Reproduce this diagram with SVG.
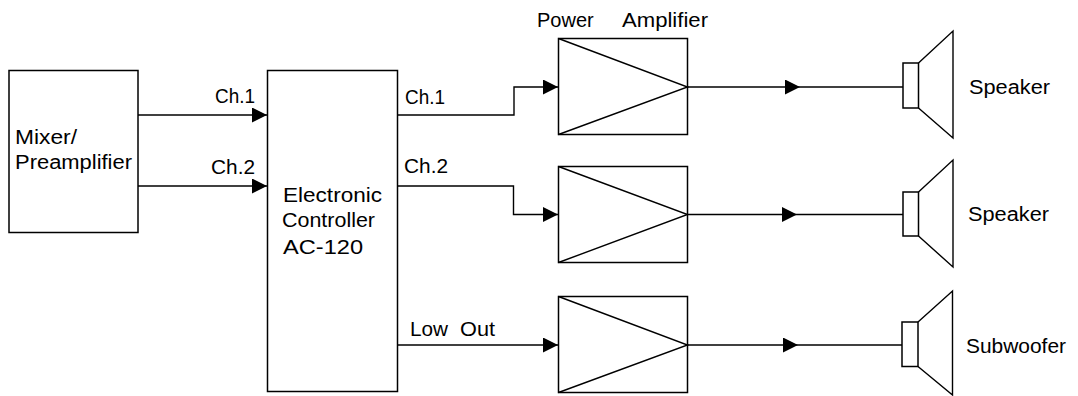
<svg xmlns="http://www.w3.org/2000/svg" width="1078" height="396" viewBox="0 0 1078 396">
<style>
.box{fill:none;stroke:#000;stroke-width:1.5}
.ln{fill:none;stroke:#000;stroke-width:1.4}
text{font-family:"Liberation Sans",Arial,sans-serif;font-size:20px;fill:#000}
</style>
<defs>
<marker id="ah" markerUnits="userSpaceOnUse" markerWidth="16" markerHeight="16" refX="15" refY="7.5" orient="auto">
<path d="M0,0 L15,7.5 L0,15 z" fill="#000"/>
</marker>
</defs>
<rect width="1078" height="396" fill="#fff"/>
<g id="mixer">
<rect class="box" x="9" y="70.5" width="129" height="162"/>
<text x="15" y="144" textLength="62" lengthAdjust="spacingAndGlyphs">Mixer/</text>
<text x="15" y="169" textLength="117" lengthAdjust="spacingAndGlyphs">Preamplifier</text>
</g>
<g id="controller">
<rect class="box" x="267.5" y="70.5" width="130" height="321"/>
<text x="283" y="202" textLength="99" lengthAdjust="spacingAndGlyphs">Electronic</text>
<text x="282" y="227" textLength="93" lengthAdjust="spacingAndGlyphs">Controller</text>
<text x="283" y="254" textLength="80" lengthAdjust="spacingAndGlyphs">AC-120</text>
</g>
<g id="amp1">
<rect class="box" x="558.5" y="38.5" width="129" height="96"/>
<path class="ln" d="M558.5,38.5 L687.5,87 L558.5,134.5"/>
<text x="537" y="27">Power</text>
<text x="622" y="27" textLength="86" lengthAdjust="spacingAndGlyphs">Amplifier</text>
</g>
<g id="amp2">
<rect class="box" x="558.5" y="166.5" width="129" height="96"/>
<path class="ln" d="M558.5,166.5 L687.5,214.5 L558.5,262.5"/>
</g>
<g id="amp3">
<rect class="box" x="558.5" y="296.5" width="129" height="96"/>
<path class="ln" d="M558.5,296.5 L687.5,345 L558.5,392.5"/>
</g>
<g id="speaker1">
<rect class="box" x="903" y="63" width="15.5" height="45"/>
<path class="ln" d="M918.5,63 L953,31 L953,138 L918.5,108"/>
<text x="969" y="94" textLength="81" lengthAdjust="spacingAndGlyphs">Speaker</text>
</g>
<g id="speaker2">
<rect class="box" x="903" y="192" width="15.5" height="44"/>
<path class="ln" d="M918.5,192 L953,160 L953,267 L918.5,236"/>
<text x="968" y="221" textLength="81" lengthAdjust="spacingAndGlyphs">Speaker</text>
</g>
<g id="subwoofer">
<rect class="box" x="902" y="322" width="16" height="44.5"/>
<path class="ln" d="M918,322 L952.5,291 L952.5,395 L918,366.5"/>
<text x="966" y="353" textLength="100" lengthAdjust="spacingAndGlyphs">Subwoofer</text>
</g>
<g id="connectors">
<path class="ln" d="M138,115 L267,115" marker-end="url(#ah)"/>
<path class="ln" d="M138,186 L267,186" marker-end="url(#ah)"/>
<path class="ln" d="M397.5,115 L514,115 L514,87 L558,87" marker-end="url(#ah)"/>
<path class="ln" d="M397.5,186 L513.5,186 L513.5,214.5 L558,214.5" marker-end="url(#ah)"/>
<path class="ln" d="M397.5,345 L558,345" marker-end="url(#ah)"/>
<path class="ln" d="M687.5,87 L800,87" marker-end="url(#ah)"/>
<path class="ln" d="M800,87 L903,87"/>
<path class="ln" d="M687.5,214.5 L797,214.5" marker-end="url(#ah)"/>
<path class="ln" d="M797,214.5 L903,214.5"/>
<path class="ln" d="M687.5,345 L798,345" marker-end="url(#ah)"/>
<path class="ln" d="M798,345 L902,345"/>
<text x="215" y="103" textLength="40" lengthAdjust="spacingAndGlyphs">Ch.1</text>
<text x="211" y="174" textLength="44" lengthAdjust="spacingAndGlyphs">Ch.2</text>
<text x="405" y="104" textLength="40" lengthAdjust="spacingAndGlyphs">Ch.1</text>
<text x="404" y="173" textLength="44" lengthAdjust="spacingAndGlyphs">Ch.2</text>
<text x="410" y="336" textLength="38" lengthAdjust="spacingAndGlyphs">Low</text>
<text x="460" y="336" textLength="35" lengthAdjust="spacingAndGlyphs">Out</text>
</g>
</svg>
